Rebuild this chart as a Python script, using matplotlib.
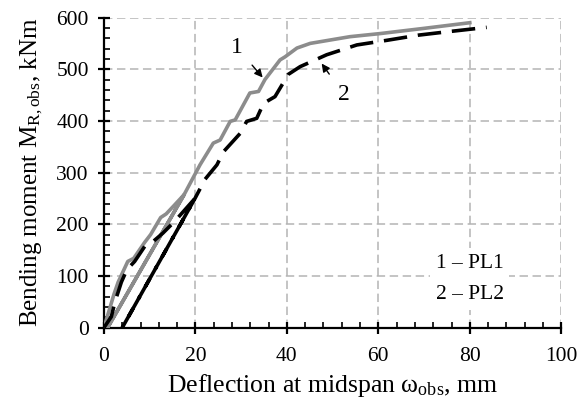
import matplotlib

matplotlib.use('Agg')
import matplotlib.pyplot as plt
from matplotlib.ticker import MultipleLocator

plt.rcParams['font.family'] = ['Liberation Serif', 'DejaVu Serif']
plt.rcParams['mathtext.fontset'] = 'custom'
plt.rcParams['mathtext.rm'] = 'Liberation Serif'
plt.rcParams['mathtext.it'] = 'Liberation Serif:italic'

# PL1: loading, unloading to residual deflection, reloading to failure
pl1_defl = [0, 2.2, 3.1, 5.2, 6.5, 8.9, 10.2, 12.4, 13.6, 15.3, 17.5,
            0.8,
            17.5, 21.0, 23.9, 25.4, 27.6, 28.7, 31.9, 33.8, 35.2, 38.5, 39.6,
            42.2, 45.1, 53.8, 60.4, 69.9, 80.0]
pl1_moment = [0, 65, 88, 128, 134, 165, 180, 213, 220, 236, 257,
              0,
              257, 315, 357, 363, 399, 402, 454, 457, 480, 518, 524,
              541, 550, 563, 569, 579, 590]

# PL2
pl2_defl = [0, 1.6, 2.4, 3.8, 5.0, 6.7, 8.9, 10.8, 12.9, 15.5, 19.9,
            4.0,
            19.9, 22.1, 24.7, 26.1, 29.8, 31.2, 33.4, 34.9, 37.4, 40.3,
            42.9, 48.7, 55.3, 61.9, 68.8, 74.6, 83.7]
pl2_moment = [0, 21, 50, 88, 112, 128, 157, 167, 183, 206, 250,
              0,
              250, 287, 315, 340, 376, 399, 405, 434, 447, 490,
              505, 528, 547, 556, 566, 572, 581]

fig = plt.figure(figsize=(5.81, 3.99), dpi=100)
ax = fig.add_axes([0.179, 0.179, 0.787, 0.777])

ax.plot(pl1_defl, pl1_moment, color='#8c8c8c', lw=2.6, solid_joinstyle='round', zorder=3)
ax.plot(pl2_defl, pl2_moment, color='black', lw=2.6, dashes=(6.5, 3), zorder=3)

ax.set_xlim(0, 100)
ax.set_ylim(0, 600)
ax.xaxis.set_major_locator(MultipleLocator(20))
ax.xaxis.set_minor_locator(MultipleLocator(4))
ax.yaxis.set_major_locator(MultipleLocator(100))
ax.yaxis.set_minor_locator(MultipleLocator(20))
ax.grid(True, which='major', color='#b4b4b4', lw=1.1, dashes=(5.5, 3))
ax.set_axisbelow(True)

for s in ('top', 'right'):
    ax.spines[s].set_visible(False)
for s in ('left', 'bottom'):
    ax.spines[s].set_linewidth(1.6)
ax.tick_params(which='major', direction='inout', length=8, width=1.6,
               labelsize=15.5)
ax.tick_params(axis='x', which='major', pad=10)
ax.tick_params(axis='y', which='major', pad=7)
ax.tick_params(which='minor', direction='in', length=4, width=1.2)

ax.set_xlabel('Deflection at midspan ω$_{\\mathrm{obs}}$, mm', fontsize=18.5, labelpad=4)
ax.set_ylabel('Bending moment M$_{\\mathrm{R,obs}}$, kNm', fontsize=18, labelpad=8)

arrow = dict(arrowstyle='-|>', color='black', lw=1, mutation_scale=12,
             shrinkA=7, shrinkB=0)
ax.annotate('1', xy=(34.7, 484), xytext=(29.1, 542), fontsize=17,
            ha='center', va='center', arrowprops=arrow)
ax.annotate('2', xy=(47.6, 511), xytext=(52.4, 452), fontsize=17,
            ha='center', va='center', arrowprops=arrow)

ax.text(80, 94, '1 – PL1\n2 – PL2', fontsize=15.5, ha='center', va='center',
        linespacing=1.9,
        bbox=dict(facecolor='white', edgecolor='none', pad=4), zorder=4)

fig.savefig('out.png', dpi=100)
